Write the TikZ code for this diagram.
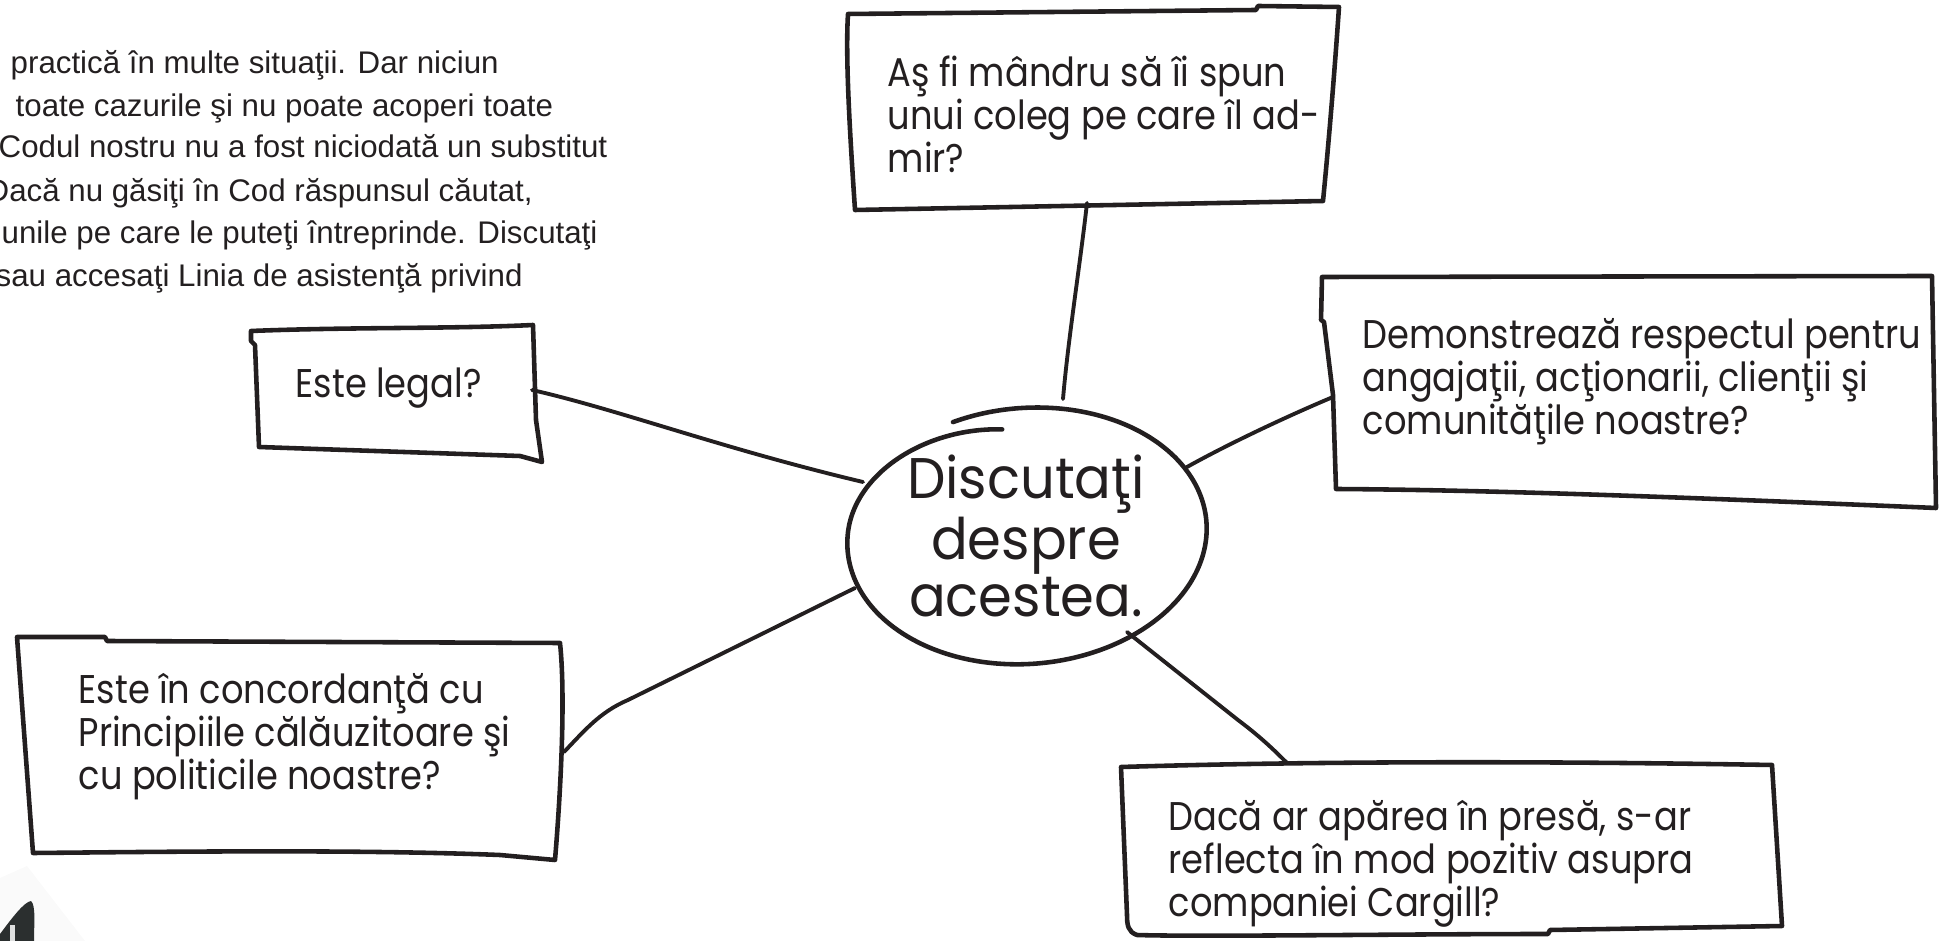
\documentclass[tikz,border=0pt]{standalone}
\usepackage{fontspec}
\usepackage{xcolor}
\usepackage{tikz}
\setmainfont{Liberation Sans}
\newfontfamily\handfont[FakeStretch=0.88]{Poppins}
\newfontfamily\bighand[FakeStretch=0.95]{Poppins}
\definecolor{ink}{HTML}{231F20}
\definecolor{pen}{HTML}{2B2F2F}
\usetikzlibrary{calc}

\begin{document}
\begin{tikzpicture}[x=0.1mm,y=-0.1mm,
    sketch/.style={draw=ink,line width=1.3pt,line join=round,line cap=round},
    link/.style={draw=ink,line width=1.1pt,line cap=round},
    boxtext/.style={anchor=west,align=left,inner sep=0pt,text=ink,
        font=\handfont\fontsize{11.4pt}{12.2pt}\selectfont},
    bigtext/.style={align=center,inner sep=0pt,text=ink,
        font=\bighand\fontsize{16.3pt}{15.4pt}\selectfont},
    intro/.style={anchor=base west,inner sep=0pt,text=ink,
        font=\fontsize{8.9pt}{12pt}\selectfont}]
    \useasboundingbox (0,0) rectangle (1941,941);

    % text cut at the left page edge
    \node[intro] (intro1) at (10,74) {practică în multe situaţii. Dar niciun};
    \node[intro] (intro2) at (15,117) {toate cazurile şi nu poate acoperi toate};
    \node[intro] (intro3) at (-2,158) {Codul nostru nu a fost niciodată un substitut};
    \node[intro] (intro4) at (-14,202) {Dacă nu găsiţi în Cod răspunsul căutat,};
    \node[intro] (intro5) at (1,244) {unile pe care le puteţi întreprinde. Discutaţi};
    \node[intro] (intro6) at (-5,287) {sau accesaţi Linia de asistenţă privind};

    % the questions
    \node[boxtext] (q-proud) at (887,114) {Aş fi mândru să îi spun\\unui coleg pe care îl ad-\\mir?};
    \node[boxtext] (q-legal) at (295,388) {Este legal?};
    \node[boxtext] (q-respect) at (1362,382) {Demonstrează respectul pentru\\angajaţii, acţionarii, clienţii şi\\comunităţile noastre?};
    \node[boxtext] (q-policy) at (78,737) {Este în concordanţă cu\\Principiile călăuzitoare şi\\cu politicile noastre?};
    \node[boxtext] (q-press) at (1168,864) {Dacă ar apărea în presă, s-ar\\reflecta în mod pozitiv asupra\\companiei Cargill?};
    \node[bigtext] (talk) at (1026,536) {Discutaţi\\despre\\acestea.};

    % hand drawn frames
    \draw[sketch] (848,14) -- (1256,10) -- (1258,6) -- (1339,7) .. controls (1334,80) and (1328,150) .. (1323,201)
        -- (855,210) .. controls (851,150) and (845,60) .. (848,14) -- cycle;
    \draw[sketch] (251,331) .. controls (350,327) and (450,329) .. (533,325) -- (536,420) -- (542,462)
        -- (520,456) -- (259,447) -- (255,345) -- (251,341) -- cycle;
    \draw[sketch] (1322,277) -- (1932,276) -- (1936,508) .. controls (1700,498) and (1500,490) .. (1336,489)
        -- (1333,395) -- (1324,322) -- (1321,320) -- cycle;
    \draw[sketch] (17,637) -- (105,637) -- (107,641) -- (560,643) .. controls (566,700) and (560,800) .. (555,860)
        -- (500,855) .. controls (350,849) and (150,852) .. (33,853) -- cycle;
    \draw[sketch] (1121,767) .. controls (1350,760) and (1600,762) .. (1772,765) -- (1782,926) -- (1550,930)
        -- (1548,934) .. controls (1400,934) and (1200,937) .. (1137,935) .. controls (1128,932) and (1127,925) .. (1127,915) -- cycle;
    \draw[sketch, rotate around={4.7:(talk)}] plot[smooth, samples=90, domain=0:375]
        ({1027+180*(1-0.15*max(0,(\x-300)/75)^2)*cos(111-\x)}, {536-128*(1-0.15*max(0,(\x-300)/75)^2)*sin(111-\x)});

    % where the lines meet the frames
    \coordinate (proud-s) at (1087,203);
    \coordinate (legal-e) at (532,390);
    \coordinate (respect-w) at (1333,397);
    \coordinate (policy-e) at (564,752);
    \coordinate (press-n) at (1287,763);
    \coordinate (talk-n) at (1063,399);
    \coordinate (talk-w) at (863,482);
    \coordinate (talk-e) at (1187,467);
    \coordinate (talk-sw) at (855,588);
    \coordinate (talk-se) at (1127,632);

    \draw[link] (proud-s) .. controls (1080,265) and (1068,340) .. (talk-n);
    \draw[link] (legal-e) .. controls (620,410) and (720,448) .. (talk-w);
    \draw[link] (talk-e) .. controls (1230,443) and (1290,415) .. (respect-w);
    \draw[link] (policy-e) .. controls (585,730) and (600,712) .. (628,700) -- (talk-sw);
    \draw[link] (talk-se) -- (1238,720) .. controls (1262,738) and (1276,752) .. (press-n);

    % marker in the corner
    \fill[black!2] (0,878) -- (27,866) -- (85,941) -- (0,941) -- cycle;
    \fill[pen] (0,934) .. controls (12,918) and (24,902) .. (31,901) .. controls (36,905) and (34,925) .. (34,941) -- (0,941) -- cycle;
    \fill[white!85!pen] (10,925) rectangle (15,941);
\end{tikzpicture}
\end{document}
